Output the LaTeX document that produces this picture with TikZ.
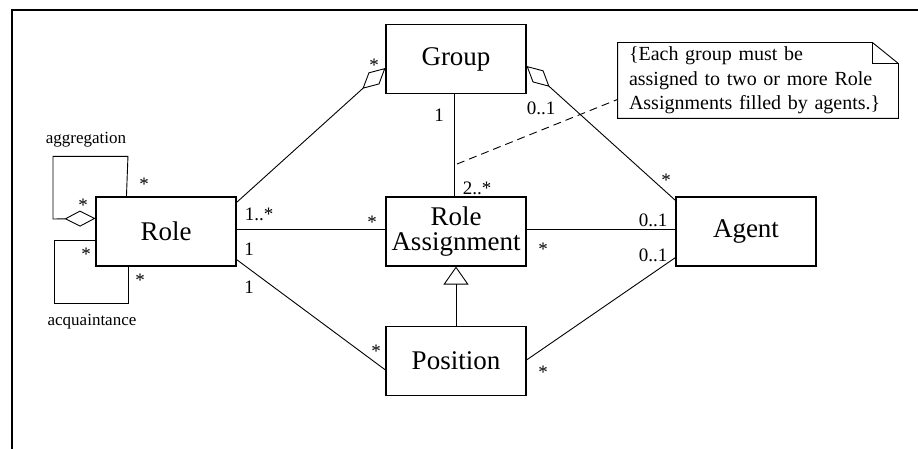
\documentclass[tikz,border=0pt]{standalone}
\usepackage{fontspec}
\setmainfont{Liberation Serif}
\usetikzlibrary{arrows.meta}
\tikzset{
	cls/.style={draw, line width=1.1pt, minimum width=140pt, minimum height=69pt, inner sep=0pt, align=center, font=\fontsize{27}{25}\selectfont},
	mult/.style={inner sep=0pt, font=\fontsize{19}{19}\selectfont},
	tag/.style={inner sep=0pt, font=\fontsize{17}{17}\selectfont},
	agg/.style={-{Diamond[open, length=31pt, width=16pt]}},
	gen/.style={-{Triangle[open, length=18pt, width=25pt]}},
}

\begin{document}
\begin{tikzpicture}[x=1pt, y=-1pt, line width=0.9pt]
			\useasboundingbox (0,0) rectangle (918,449);
			\draw[line width=2pt] (12,449) -- (12,10) -- (918,10);
			\node[cls] (role) at (166,231.5) {Role};
			\node[cls] (group) at (456,59) {Group};
			\node[cls] (ra) at (456,231.5) {Role\\Assignment};
			\node[cls] (pos) at (456,361) {Position};
			\node[cls] (agent) at (746,231.5) {Agent};
			\node[inner xsep=11pt, inner ysep=0pt, text width=258pt, minimum height=75pt, align=left, font=\fontsize{20}{24.5}\selectfont] (note) at (758,80.5) {\{Each group must be\\assigned to two or more Role\\Assignments filled by agents.\}};
			\draw (note.north west) -- ([xshift=-26pt]note.north east) -- ([yshift=-21pt]note.north east) -- (note.south east) -- (note.south west) -- cycle;
			\draw ([xshift=-26pt]note.north east) -- ++(0,21) -- ([yshift=-21pt]note.north east);
			\coordinate (c1) at (457,164);
			\draw[dashed, dash pattern=on 8pt off 5pt] (c1) -- ([yshift=19pt]note.south west);
			\draw[agg] ([yshift=-6pt]role.north east) -- ([yshift=-9pt]group.west);
			\draw[agg] ([yshift=-4pt]agent.north west) -- ([yshift=-7pt]group.east);
			\draw ([yshift=2.5pt]role.east) -- ([yshift=2.5pt]ra.west);
			\draw ([yshift=2.5pt]ra.east) -- ([yshift=2.5pt]agent.west);
			\draw ([xshift=-2pt]group.south) -- ([xshift=-2pt]ra.north);
			\draw[gen] (pos.north) -- (ra.south);
			\draw ([yshift=7pt]role.south east) -- ([yshift=-9pt]pos.west);
			\draw ([yshift=1pt]pos.east) -- ([yshift=9pt]agent.south west);
			% self associations of Role
			\draw[agg] ([xshift=31pt]role.north west) -- ++(1.5,-40) -| (53,219) -- ([yshift=-22pt]role.north west);
			\draw ([yshift=-44pt]role.north west) -| (54,303) -| ([xshift=33pt]role.south west);
			\node[tag] (t1) at (86,140) {aggregation};
			\node[tag] (t2) at (92,322) {acquaintance};
			% multiplicities
			\node[mult] (l1) at (144,184) {*};
			\node[mult] (l2) at (83,205) {*};
			\node[mult] (l3) at (86,254) {*};
			\node[mult] (l4) at (140,280) {*};
			\node[mult] (l5) at (374,65) {*};
			\node[mult] (l6) at (259,214) {1..*};
			\node[mult] (l7) at (249,249) {1};
			\node[mult] (l8) at (249,287) {1};
			\node[mult] (l9) at (372,222) {*};
			\node[mult] (l10) at (439,115) {1};
			\node[mult] (l11) at (541,108) {0..1};
			\node[mult] (l12) at (477,188) {2..*};
			\node[mult] (l13) at (543,249) {*};
			\node[mult] (l14) at (666,180) {*};
			\node[mult] (l15) at (653,220) {0..1};
			\node[mult] (l16) at (653,255) {0..1};
			\node[mult] (l17) at (376,351) {*};
			\node[mult] (l18) at (543,372) {*};
		\end{tikzpicture}
\end{document}
